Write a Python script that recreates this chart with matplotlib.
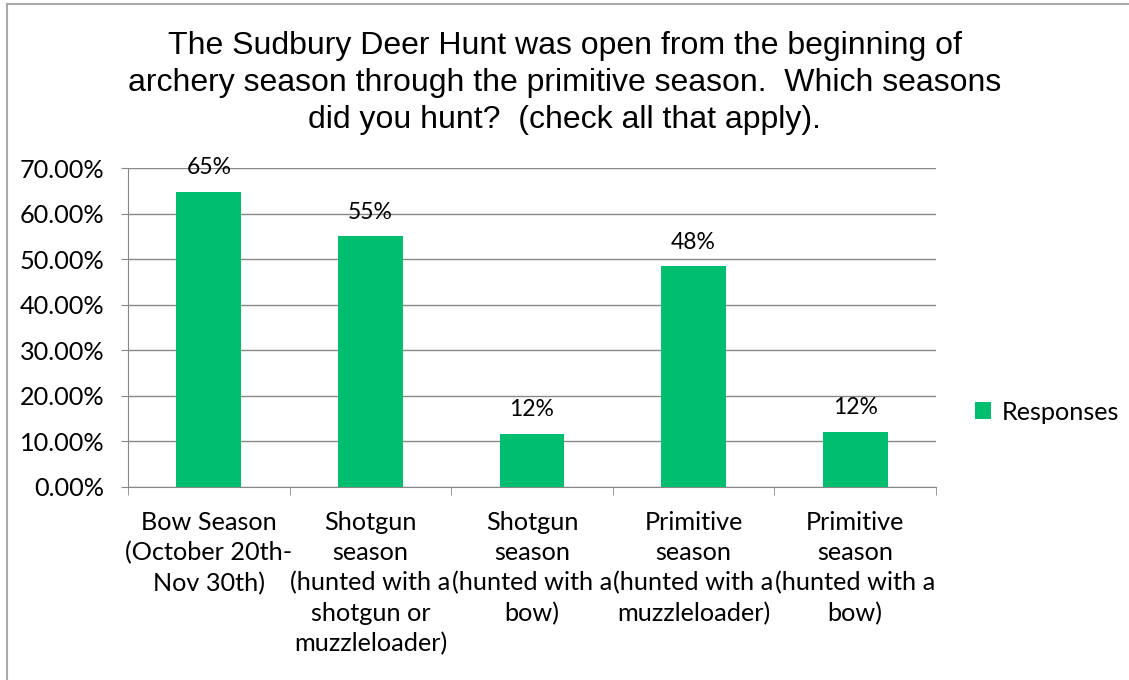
import matplotlib.pyplot as plt
import numpy as np
from matplotlib.lines import Line2D
from matplotlib.ticker import FuncFormatter, FixedLocator

categories = [
    "Bow Season\n(October 20th-\nNov 30th)",
    "Shotgun\nseason\n(hunted with a\nshotgun or\nmuzzleloader)",
    "Shotgun\nseason\n(hunted with a\nbow)",
    "Primitive\nseason\n(hunted with a\nmuzzleloader)",
    "Primitive\nseason\n(hunted with a\nbow)",
]
responses = [0.648, 0.550, 0.116, 0.484, 0.121]
bar_labels = ["65%", "55%", "12%", "48%", "12%"]
yticks = [0.0, 0.1, 0.2, 0.3, 0.4, 0.5, 0.6, 0.7]

green = "#00BE6F"
grey = "#888888"
body_font = "Lato"
fs = 18.2

fig = plt.figure(figsize=(11.29, 6.8), dpi=100)
# chart border (only left and top edges are visible in the original)
bx, by = 7 / 1129, 1 - 4 / 680
fig.add_artist(Line2D([bx, bx], [0, by], transform=fig.transFigure,
                      color="#AAAAAA", linewidth=1.5))
fig.add_artist(Line2D([bx, 1], [by, by], transform=fig.transFigure,
                      color="#AAAAAA", linewidth=1.5))

ax = fig.add_axes([128 / 1129, 1 - 487 / 680, (936 - 128) / 1129, (487 - 168) / 680])

x = np.arange(len(categories))
ax.bar(x, responses, width=0.4, color=green, zorder=3, label="Responses")
for xi, v, lab in zip(x, responses, bar_labels):
    ax.text(xi, v + 0.03, lab, ha="center", va="bottom", fontsize=16.5,
            family=body_font, color="black")

ax.set_xlim(-0.5, len(categories) - 0.5)
ax.set_ylim(0, 0.7)
ax.set_yticks(yticks)
ax.yaxis.set_major_formatter(FuncFormatter(lambda v, p: f"{v * 100:.2f}%"))
ax.grid(axis="y", color=grey, linewidth=1.0, zorder=0)
ax.set_axisbelow(True)

ax.set_xticks(x)
ax.set_xticklabels(categories, fontsize=fs, family=body_font, linespacing=1.38)
ax.tick_params(axis="x", length=0, pad=17)
ax.xaxis.set_minor_locator(FixedLocator(np.arange(-0.5, len(categories), 1.0)))
ax.tick_params(axis="x", which="minor", length=6, color=grey, direction="out")
ax.tick_params(axis="y", length=5, color=grey, labelsize=fs, pad=12)
for t in ax.get_yticklabels():
    t.set_family(body_font)

for s in ["top", "right"]:
    ax.spines[s].set_visible(False)
ax.spines["left"].set_color(grey)
ax.spines["bottom"].set_color(grey)

fig.text(0.5, 1 - 83 / 680,
         "The Sudbury Deer Hunt was open from the beginning of\n"
         "archery season through the primitive season.  Which seasons\n"
         "did you hunt?  (check all that apply).",
         ha="center", va="center", fontsize=23, family="Liberation Sans",
         linespacing=1.3)

leg = ax.legend(loc="center left", bbox_to_anchor=(1.02, 0.235), frameon=False,
                prop={"family": body_font, "size": fs}, handlelength=0.65,
                handleheight=0.65, handletextpad=0.4)

fig.savefig("out.png", dpi=100)
